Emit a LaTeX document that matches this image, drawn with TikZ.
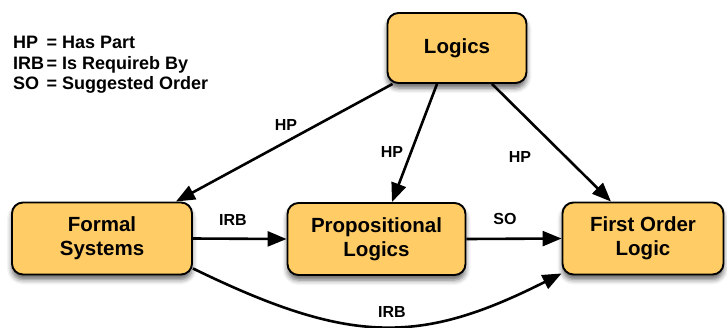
\documentclass[tikz,border=0pt]{standalone}
\usepackage{fontspec}
\setmainfont{Liberation Sans}
\usetikzlibrary{arrows.meta,shadows.blur,calc}
\definecolor{boxfill}{RGB}{255,204,102}
\begin{document}
\begin{tikzpicture}[x=1pt,y=-1pt,
  box/.style={draw=black, line width=1.9pt, fill=boxfill, rounded corners=11pt,
    align=center, font=\fontsize{20.5}{24}\selectfont\bfseries, inner sep=0pt,
    blur shadow={shadow xshift=0pt, shadow yshift=-5pt, shadow blur radius=5pt, shadow opacity=60}},
  conn/.style={line width=2.6pt, -{Triangle[length=19pt,width=15pt]}},
  lbl/.style={font=\fontsize{16}{18}\selectfont\bfseries, inner sep=0pt}
]
\useasboundingbox (0,0) rectangle (727,327);

\node[box, minimum width=139pt, minimum height=70pt] (L) at (457,48) {Logics};
\node[box, minimum width=180pt, minimum height=72pt] (F) at (102,238.5) {Formal\\Systems};
\node[box, minimum width=178pt, minimum height=72pt] (P) at (376.5,239) {Propositional\\Logics};
\node[box, minimum width=161pt, minimum height=72pt] (FO) at (643,238.5) {First Order\\Logic};

\node[anchor=west, inner sep=0pt, font=\fontsize{18}{20.5}\selectfont\bfseries] (legend) at (13,65)
  {\begin{tabular}{@{}l@{\hspace{2.5pt}}l@{}}HP & = Has Part\\ IRB & = Is Requireb By\\ SO & = Suggested Order\end{tabular}};

\draw[conn] ($(L.south west)+(6,0)$) -- ($(F.north east)+(-17,0)$);
\draw[conn] ($(L.south)+(-20,0)$) -- ($(P.north)+(15.5,0)$);
\draw[conn] ($(L.south)+(35,0)$) -- ($(FO.north)+(-32,0)$);
\draw[conn] (F.east) -- (P.west);
\draw[conn] (P.east) -- (FO.west);
\draw[conn] ($(F.south east)+(0,-7)$) .. controls (350,345) and (420,345) .. ($(FO.south west)+(0,-2)$);

\node[lbl] (hp1) at (286,125) {HP};
\node[lbl] (hp2) at (392,152) {HP};
\node[lbl] (hp3) at (520,157) {HP};
\node[lbl] (irb1) at (233,220) {IRB};
\node[lbl] (so) at (505,219) {SO};
\node[lbl] (irb2) at (392,312) {IRB};
\end{tikzpicture}
\end{document}
